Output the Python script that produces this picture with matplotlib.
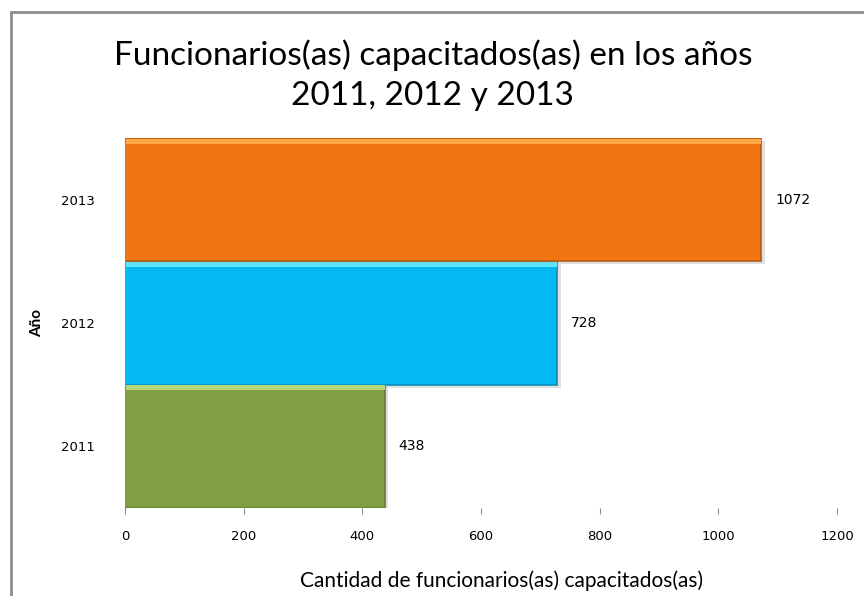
import matplotlib.pyplot as plt
import matplotlib.patches as mpatches

# data
years = ['2011', '2012', '2013']
counts = [438, 728, 1072]
bar_colors = ['#809F45', '#03B9F1', '#F17613']
edge_colors = ['#627A32', '#0890BA', '#B85A10']
top_colors = ['#B5D978', '#5FE3FF', '#FFA947']
x_ticks = [0, 200, 400, 600, 800, 1000, 1200]

plt.rcParams['font.family'] = ['Lato', 'DejaVu Sans']

fig = plt.figure(figsize=(8.64, 5.96), dpi=100)
ax = fig.add_axes([0.1447, 0.1477, 0.8241, 0.6208])

# outer chart border
fig.patches.append(mpatches.Rectangle((11 / 864, -0.1), 1.2, 1 - 12 / 596 + 0.1,
                                      transform=fig.transFigure, fill=False,
                                      edgecolor='#8C8C8C', linewidth=2))

ypos = list(range(len(years)))
# soft shadow
ax.barh([y - 0.025 for y in ypos], [c + 6 for c in counts], height=1.0,
        color='#E0E0E0', zorder=1)
bars = ax.barh(ypos, counts, height=1.0, color=bar_colors,
               edgecolor=edge_colors, linewidth=1.2, zorder=2)
# bevel highlight along the top of each bar
ax.barh([y + 0.475 for y in ypos], counts, height=0.04, color=top_colors,
        linewidth=0, zorder=3)

for y, c in zip(ypos, counts):
    ax.annotate(str(c), (c, y), xytext=(10, 0), textcoords='offset points',
                va='center', ha='left', fontsize=10,
                family=['DejaVu Sans'])

ax.set_xlim(0, 1200)
ax.set_ylim(-0.5, 2.5)
ax.set_xticks(x_ticks)
ax.set_yticks(ypos)
ax.set_yticklabels(years, family=['DejaVu Sans'], fontsize=9.5)
ax.set_xticklabels([str(t) for t in x_ticks], family=['DejaVu Sans'],
                   fontsize=9.5)
ax.tick_params(axis='y', length=0, pad=22)
ax.tick_params(axis='x', length=4, color='#8C8C8C', pad=12)

for s in ['top', 'right', 'bottom']:
    ax.spines[s].set_visible(False)
ax.spines['left'].set_color('#8C8C8C')
ax.spines['left'].set_zorder(4)

ax.set_ylabel('Año', fontsize=11, fontweight='bold', labelpad=12)
ax.set_xlabel('Cantidad de funcionarios(as) capacitados(as)', fontsize=15)
ax.xaxis.set_label_coords(0.529, -0.168)

fig.text(0.501, 0.874, 'Funcionarios(as) capacitados(as) en los años\n2011, 2012 y 2013',
         ha='center', va='center', fontsize=24, linespacing=1.45)

fig.savefig('out.png', dpi=100)
